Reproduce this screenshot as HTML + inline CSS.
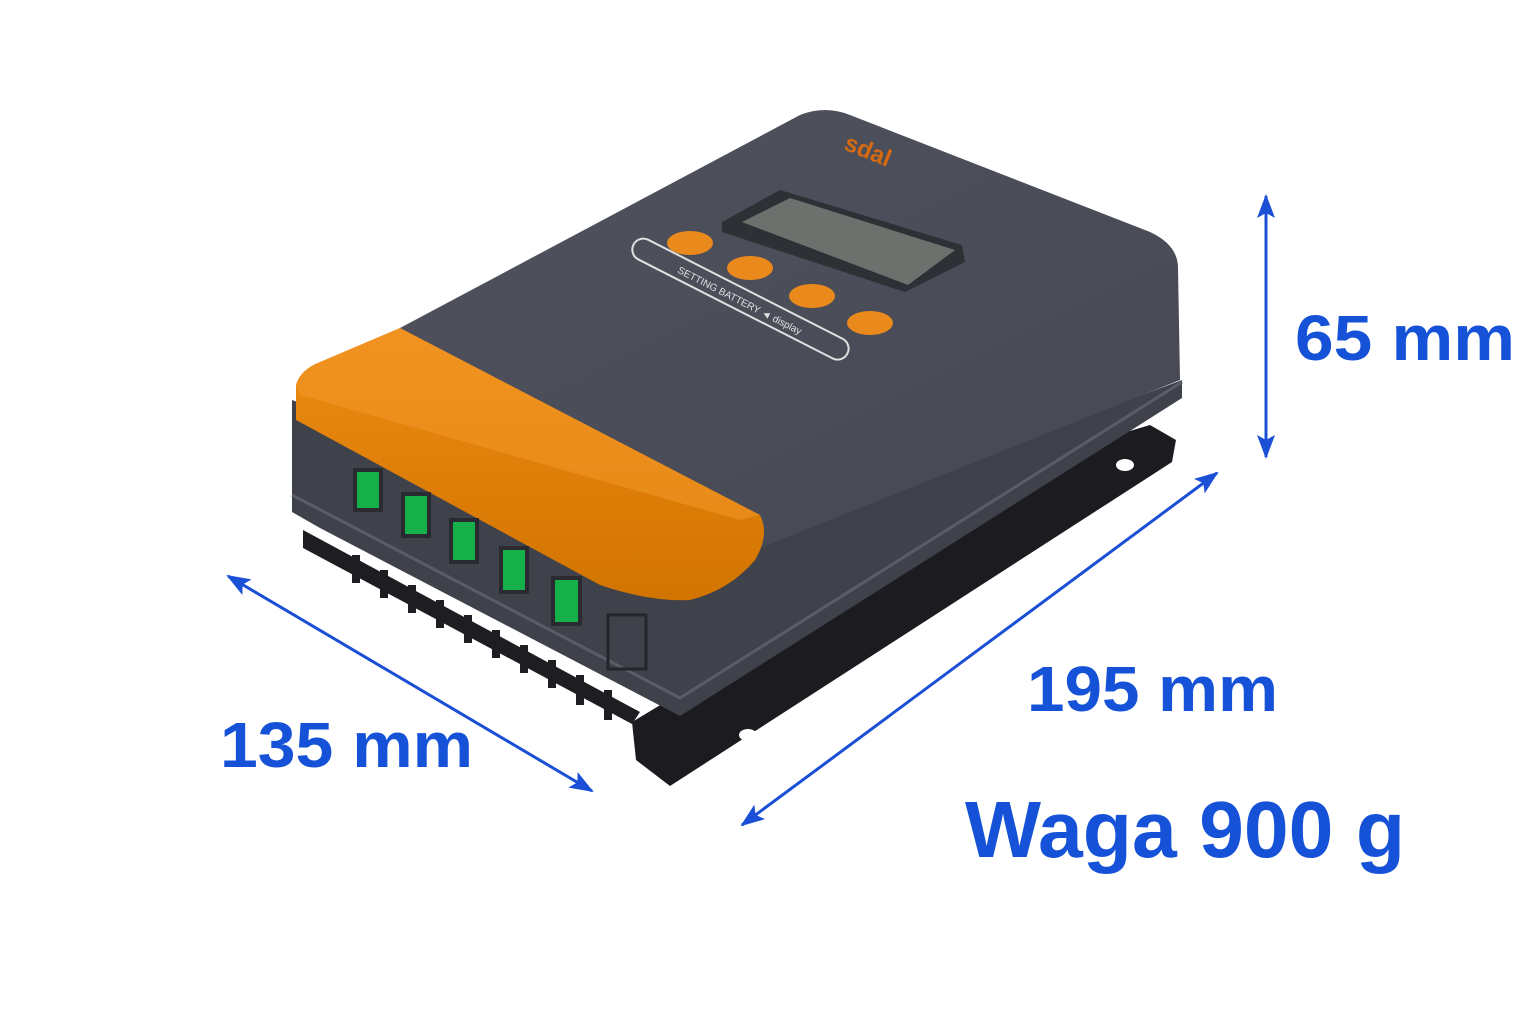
<!DOCTYPE html>
<html><head><meta charset="utf-8"><style>
html,body{margin:0;padding:0;background:#fff;}
svg{display:block;}
text.d{font-family:"Liberation Sans",sans-serif;font-weight:bold;fill:#1652d8;}
</style></head><body>
<svg width="1536" height="1024" viewBox="0 0 1536 1024" xmlns="http://www.w3.org/2000/svg">
<defs>
<marker id="ah" markerWidth="24" markerHeight="18" refX="22" refY="9" orient="auto-start-reverse" markerUnits="userSpaceOnUse" viewBox="0 0 24 18">
<path d="M0,0 L24,9 L0,18 L5,9 z" fill="#1a4fd6"/></marker>
<linearGradient id="top" x1="0" y1="0" x2="1" y2="1"><stop offset="0" stop-color="#50525e"/><stop offset="1" stop-color="#464854"/></linearGradient>
<linearGradient id="org" x1="0" y1="0" x2="0" y2="1"><stop offset="0" stop-color="#ee8c14"/><stop offset="1" stop-color="#d27400"/></linearGradient>
</defs>
<polygon points="632,722 636,760 670,786 1172,462 1176,440 1150,425 1100,440" fill="#1c1c20"/>
<ellipse cx="748" cy="735" rx="9" ry="6" fill="#fff"/>
<ellipse cx="1125" cy="465" rx="9" ry="6" fill="#fff"/>
<g fill="#1e1e22">
<polygon points="303,530 640,712 632,724 303,548"/>
<rect x="352" y="555" width="8" height="28"/><rect x="380" y="570" width="8" height="28"/>
<rect x="408" y="585" width="8" height="28"/><rect x="436" y="600" width="8" height="28"/>
<rect x="464" y="615" width="8" height="28"/><rect x="492" y="630" width="8" height="28"/>
<rect x="520" y="645" width="8" height="28"/><rect x="548" y="660" width="8" height="28"/>
<rect x="576" y="675" width="8" height="30"/><rect x="604" y="690" width="8" height="30"/>
</g>
<polygon points="292,400 292,512 320,528 680,716 1182,398 1182,380 700,560" fill="#3f414b"/>
<polyline points="292,495 680,698 1182,382" fill="none" stroke="#5a5c68" stroke-width="3"/>
<path d="M300,380 L400,328 L800,115 Q825,105 850,115 L1150,232 Q1178,245 1178,268 L1180,380 L760,548 L300,400 z" fill="url(#top)"/>
<path d="M296,385 Q300,370 320,362 L400,328 L760,515 Q770,535 755,560 Q730,590 690,600 Q650,602 600,585 L296,420 z" fill="url(#org)"/>
<path d="M296,385 Q300,370 320,362 L400,328 L760,515 L740,520 L300,395 z" fill="#f39a2c" opacity="0.5"/>
<g fill="#16b04a" stroke="#2a2a30" stroke-width="4">
<rect x="355" y="470" width="26" height="40"/><rect x="403" y="494" width="26" height="42"/>
<rect x="451" y="520" width="26" height="42"/><rect x="501" y="548" width="26" height="44"/>
<rect x="553" y="578" width="27" height="46"/>
</g>
<rect x="608" y="615" width="38" height="54" fill="none" stroke="#25262c" stroke-width="3"/>
<polygon points="722,222 780,190 962,245 965,262 905,292 722,232" fill="#2e3035"/>
<polygon points="742,222 790,198 955,250 908,285" fill="#6e706e"/>
<g transform="translate(740,300) rotate(27)">
<rect x="-120" y="-12" width="240" height="22" rx="11" fill="none" stroke="#e0e0e0" stroke-width="2"/>
<text x="0" y="4" font-family="Liberation Sans,sans-serif" font-size="10" fill="#e0e0e0" text-anchor="middle">SETTING  BATTERY      ◄     display</text>
</g>
<g fill="#ea8a1c">
<ellipse cx="690" cy="243" rx="23" ry="12"/><ellipse cx="750" cy="268" rx="23" ry="12"/>
<ellipse cx="812" cy="296" rx="23" ry="12"/><ellipse cx="870" cy="323" rx="23" ry="12"/>
</g>
<text x="865" y="158" transform="rotate(22 865 158)" font-family="Liberation Sans,sans-serif" font-weight="bold" font-size="24" fill="#d66a10" text-anchor="middle">sdal</text>
<g stroke="#1a4fd6" stroke-width="3" marker-start="url(#ah)" marker-end="url(#ah)">
<line x1="1266" y1="196" x2="1266" y2="457"/>
<line x1="228" y1="576" x2="592" y2="791"/>
<line x1="742" y1="825" x2="1217" y2="473"/>
</g>
<text class="d" x="1295" y="360" font-size="64" textLength="220" lengthAdjust="spacingAndGlyphs">65 mm</text>
<text class="d" x="1027" y="711" font-size="64" textLength="251" lengthAdjust="spacingAndGlyphs">195 mm</text>
<text class="d" x="220" y="767" font-size="64" textLength="253" lengthAdjust="spacingAndGlyphs">135 mm</text>
<text class="d" x="965" y="857" font-size="80" textLength="440" lengthAdjust="spacingAndGlyphs">Waga 900 g</text>
</svg>
</body></html>
